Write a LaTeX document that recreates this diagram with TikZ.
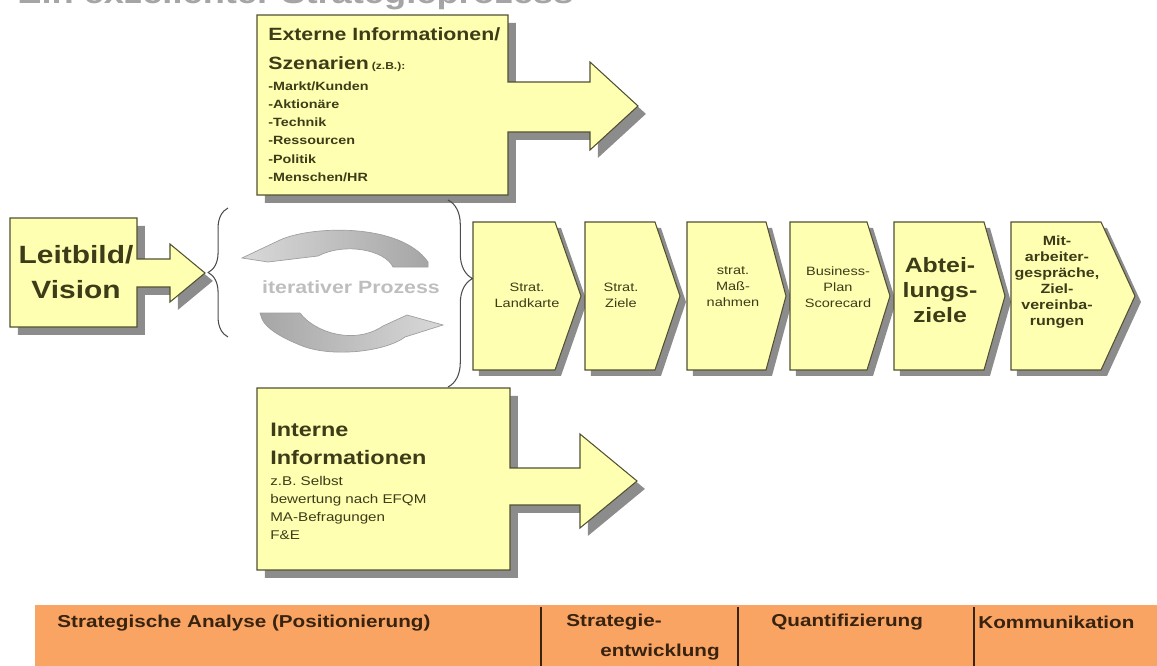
\documentclass[tikz,border=0pt]{standalone}
\usepackage{fontspec}
\setmainfont{Liberation Sans}[FakeStretch=1.2]
\usepackage{tikz}
\usetikzlibrary{shadows, decorations.pathreplacing, calc}
\definecolor{paleyellow}{RGB}{255,255,178}
\definecolor{boxline}{RGB}{80,80,50}
\definecolor{shadowgray}{RGB}{140,140,140}
\definecolor{olivetext}{RGB}{60,60,25}
\definecolor{phaseorange}{RGB}{250,164,100}
\definecolor{phasetext}{RGB}{55,35,15}
\definecolor{titlegray}{RGB}{165,165,165}
\definecolor{cyclegray}{RGB}{190,190,190}

\tikzset{
  yblock/.style={fill=paleyellow, draw=boxline, line width=0.6pt,
    general shadow={fill=shadowgray, shadow xshift=4.5pt, shadow yshift=-4.5pt}},
  chevblock/.style={fill=paleyellow, draw=boxline, line width=0.6pt,
    general shadow={fill=shadowgray, shadow xshift=3.4pt, shadow yshift=-3.4pt}},
  chevtext/.style={align=center, inner sep=0, text=olivetext, font=\fontsize{6.9}{9.1}\selectfont},
  phase/.style={inner sep=0, text=phasetext, font=\bfseries\fontsize{9.8}{12}\selectfont},
  bracestyle/.style={draw=black!70, line width=0.6pt, decorate},
}

\begin{document}
\begin{tikzpicture}[x=0.02cm, y=-0.02cm, every node/.style={inner sep=0}]
  \useasboundingbox (0,0) rectangle (1157,666);
  \clip (0,0) rectangle (1157,666);

  % title, cut off at the top edge
  \node[anchor=base west, text=titlegray, font=\bfseries\fontsize{17.2}{20}\selectfont] (title) at (17,4) {Ein exzellenter Strategieprozess};

  % Leitbild arrow
  \draw[yblock] (10,218) -- (137,218) -- (137,259) -- (170,259) -- (170,244) -- (205,273)
    -- (170,302) -- (170,287) -- (137,287) -- (137,327) -- (10,327) -- cycle;
  \node[align=center, text=olivetext, font=\bfseries\fontsize{14.2}{19.8}\selectfont] (leitbild) at (76,272) {Leitbild/\\Vision};

  % external information
  \draw[yblock] (257,15) -- (508,15) -- (508,82) -- (590,82) -- (590,62) -- (638,106)
    -- (590,150) -- (590,132) -- (508,132) -- (508,195) -- (257,195) -- cycle;
  \node[anchor=north west, align=left, text=olivetext, font=\bfseries\fontsize{10.1}{16.4}\selectfont] (exthead) at (268,27)
    {Externe Informationen/\\Szenarien\,{\fontsize{5.7}{7}\selectfont(z.B.):}};
  \node[anchor=north west, align=left, text=olivetext, font=\bfseries\fontsize{6.8}{10.4}\selectfont] (extlist) at (268,81)
    {-Markt/Kunden\\-Aktionäre\\-Technik\\-Ressourcen\\-Politik\\-Menschen/HR};

  % internal information
  \draw[yblock] (257,388) -- (510,388) -- (510,468) -- (580,468) -- (580,434) -- (637,481)
    -- (580,528) -- (580,505) -- (510,505) -- (510,570) -- (257,570) -- cycle;
  \node[anchor=north west, align=left, text=olivetext, font=\bfseries\fontsize{11.1}{15.9}\selectfont] (inthead) at (270,423)
    {Interne\\Informationen};
  \node[anchor=north west, align=left, text=olivetext, font=\fontsize{7.2}{10.2}\selectfont] (intlist) at (270,476)
    {z.B. Selbst\\bewertung nach EFQM\\MA-Befragungen\\F\&E};

  % iteration cycle
  \shadedraw[left color=gray!30, right color=gray!70, draw=gray!75, line width=0.4pt]
    (242,258) -- (280,240) .. controls (310,226) and (400,222) .. (428,262) -- (428,267) -- (393,267)
    .. controls (385,250) and (345,242) .. (318,256) -- (268,262) -- cycle;
  \shadedraw[left color=gray!70, right color=gray!30, draw=gray!75, line width=0.4pt]
    (260,313) -- (300,313) .. controls (315,333) and (355,345) .. (383,326) -- (407,315)
    -- (443,325) -- (405,337) .. controls (385,352) and (330,358) .. (300,345)
    .. controls (280,337) and (266,328) .. (262,319) -- cycle;
  \node[text=cyclegray, font=\bfseries\fontsize{10.1}{12}\selectfont] (iterlabel) at (351,287) {iterativer Prozess};

  % braces round the cycle
  \coordinate (lbrace bot) at (228,337);
  \coordinate (lbrace top) at (228,208);
  \coordinate (rbrace top) at (448,200);
  \coordinate (rbrace bot) at (448,387);
  \draw[bracestyle, decoration={brace, amplitude=11.3pt, aspect=0.5}] (lbrace bot) -- (lbrace top);
  \draw[bracestyle, decoration={brace, amplitude=14pt, aspect=0.42}] (rbrace top) -- (rbrace bot);

  % process chevrons
  \foreach \l/\r/\t in {473/555/581, 585/655/680, 687/766/786, 790/867/890, 894/984/1005, 1011/1101/1135}
    \draw[chevblock] (\l,222) -- (\r,222) -- (\t,296) -- (\r,370) -- (\l,370) -- cycle;
  \node[chevtext] (landkarte) at (527,295) {Strat.\\Landkarte};
  \node[chevtext] (ziele) at (621,295) {Strat.\\Ziele};
  \node[chevtext] (massnahmen) at (733,287) {strat.\\Maß-\\nahmen};
  \node[chevtext] (business) at (838,287) {Business-\\Plan\\Scorecard};
  \node[chevtext, font=\bfseries\fontsize{11.8}{14.2}\selectfont] (abteilung) at (940,290) {Abtei-\\lungs-\\ziele};
  \node[chevtext, font=\bfseries\fontsize{7.6}{9.1}\selectfont] (mitarbeiter) at (1057,282)
    {Mit-\\arbeiter-\\gespräche,\\Ziel-\\vereinba-\\rungen};

  % phase bar
  \fill[phaseorange] (35,605) rectangle (1157,666);
  \foreach \x in {541, 738, 974}
    \draw[phasetext, line width=0.6pt] (\x,607) -- (\x,666);
  \node[phase, anchor=west] (analyse) at (57,623) {Strategische Analyse (Positionierung)};
  \node[phase, anchor=west] (entw) at (566,622) {Strategie-};
  \node[phase, anchor=east] (entwb) at (720,652) {entwicklung};
  \node[phase, anchor=west] (quant) at (771,622) {Quantifizierung};
  \node[phase, anchor=west] (komm) at (978,622) {Kommunikation};
\end{tikzpicture}
\end{document}
